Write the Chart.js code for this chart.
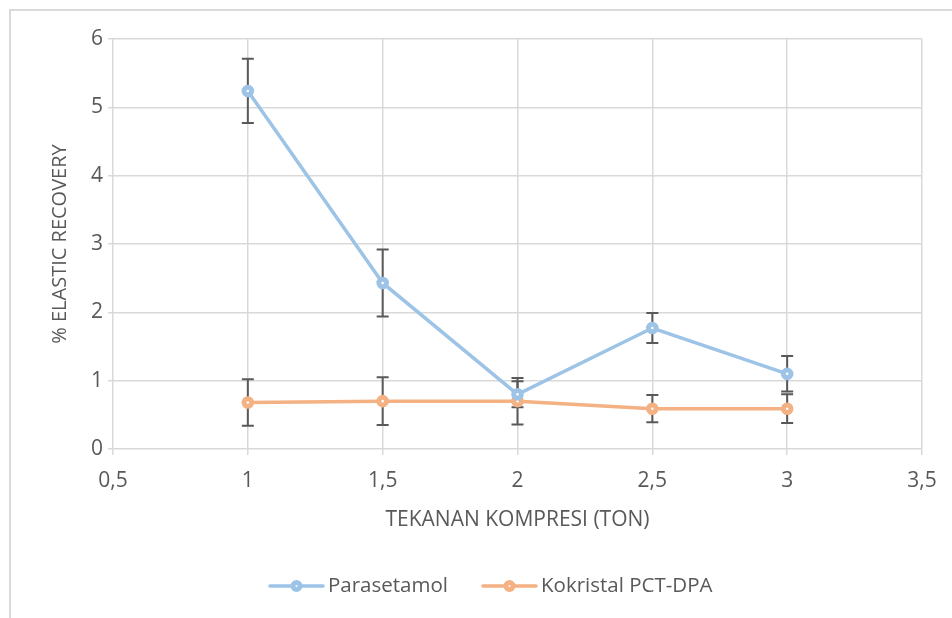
<!DOCTYPE html>
<html>
<head>
<meta charset="utf-8">
<script src="https://cdn.jsdelivr.net/npm/chart.js@4/dist/chart.umd.min.js"></script>
<style>
  html, body { margin: 0; padding: 0; background: #fff; }
  #wrap { width: 952px; height: 618px; position: relative; }
</style>
</head>
<body>
<div id="wrap"><canvas id="c" width="952" height="618"></canvas></div>
<script>
// Compression pressure (ton) and % elastic recovery with standard deviations
const pressure = [1, 1.5, 2, 2.5, 3];
const parasetamol = [5.24, 2.43, 0.80, 1.77, 1.10];
const parasetamolErr = [0.47, 0.49, 0.19, 0.22, 0.26];
const kokristal = [0.68, 0.70, 0.70, 0.59, 0.59];
const kokristalErr = [0.34, 0.35, 0.34, 0.20, 0.21];
const xTickLabels = ['0,5', '1', '1,5', '2', '2,5', '3', '3,5'];
const yTickLabels = ['0', '1', '2', '3', '4', '5', '6'];
const seriesNames = ['Parasetamol', 'Kokristal PCT-DPA'];

const BLUE = '#9DC3E6';
const ORANGE = '#F4B183';
const TEXT = '#595959';
const GRID = '#D9D9D9';
const FONT = "'Open Sans', 'DejaVu Sans', sans-serif";

const errors = [parasetamolErr, kokristalErr];

// Frame lines around the chart object
const framePlugin = {
  id: 'frame',
  beforeDraw(chart) {
    const ctx = chart.ctx;
    ctx.save();
    ctx.strokeStyle = GRID;
    ctx.lineWidth = 2;
    ctx.beginPath();
    ctx.moveTo(10, 618);
    ctx.lineTo(10, 10);
    ctx.lineTo(952, 10);
    ctx.stroke();
    ctx.restore();
  }
};

// Vertical error bars with caps, drawn under the markers
const errorBarPlugin = {
  id: 'errorBars',
  beforeDatasetsDraw(chart) {
    const ctx = chart.ctx;
    const xs = chart.scales.x, ys = chart.scales.y;
    ctx.save();
    ctx.strokeStyle = '#595959';
    ctx.lineWidth = 2;
    chart.data.datasets.forEach((ds, di) => {
      ds.data.forEach((p, i) => {
        const e = errors[di][i];
        const x = xs.getPixelForValue(p.x);
        const yt = ys.getPixelForValue(p.y + e);
        const yb = ys.getPixelForValue(p.y - e);
        ctx.beginPath();
        ctx.moveTo(x, yt); ctx.lineTo(x, yb);
        ctx.moveTo(x - 6, yt); ctx.lineTo(x + 6, yt);
        ctx.moveTo(x - 6, yb); ctx.lineTo(x + 6, yb);
        ctx.stroke();
      });
    });
    ctx.restore();
  }
};

// Legend: line sample with a marker, followed by the series name
const legendPlugin = {
  id: 'lineLegend',
  afterDraw(chart) {
    const ctx = chart.ctx;
    const items = [
      { x: 270, color: BLUE, text: seriesNames[0] },
      { x: 483, color: ORANGE, text: seriesNames[1] }
    ];
    const y = 586;
    ctx.save();
    items.forEach(it => {
      ctx.strokeStyle = it.color;
      ctx.lineWidth = 3.5;
      ctx.lineCap = 'round';
      ctx.beginPath();
      ctx.moveTo(it.x, y); ctx.lineTo(it.x + 53, y);
      ctx.stroke();
      ctx.beginPath();
      ctx.arc(it.x + 26.5, y, 3.5, 0, Math.PI * 2);
      ctx.fillStyle = '#fff';
      ctx.fill();
      ctx.lineWidth = 5;
      ctx.stroke();
      ctx.fillStyle = TEXT;
      ctx.font = '20.5px ' + FONT;
      ctx.textBaseline = 'middle';
      ctx.textAlign = 'left';
      ctx.fillText(it.text, it.x + 58, y);
    });
    ctx.restore();
  }
};

const pts = (vals) => pressure.map((x, i) => ({ x: x, y: vals[i] }));

new Chart(document.getElementById('c'), {
  type: 'line',
  data: {
    datasets: [
      {
        label: seriesNames[0],
        data: pts(parasetamol),
        borderColor: BLUE,
        backgroundColor: '#fff',
        borderWidth: 3.5,
        pointRadius: 3.8,
        pointBorderWidth: 5,
        pointBorderColor: BLUE,
        pointBackgroundColor: '#fff',
        tension: 0
      },
      {
        label: seriesNames[1],
        data: pts(kokristal),
        borderColor: ORANGE,
        backgroundColor: '#fff',
        borderWidth: 3.5,
        pointRadius: 3.8,
        pointBorderWidth: 5,
        pointBorderColor: ORANGE,
        pointBackgroundColor: '#fff',
        tension: 0
      }
    ]
  },
  options: {
    responsive: false,
    devicePixelRatio: 1,
    animation: false,
    layout: { padding: { left: 0, top: 39, right: 30, bottom: 0 } },
    plugins: {
      legend: { display: false },
      tooltip: { enabled: false }
    },
    scales: {
      x: {
        type: 'linear',
        min: 0.5,
        max: 3.5,
        afterFit(scale) { scale.height = 169; },
        ticks: {
          stepSize: 0.5,
          color: TEXT,
          font: { family: FONT, size: 21 },
          padding: 13,
          maxRotation: 0,
          callback: (v) => xTickLabels[Math.round((v - 0.5) / 0.5)]
        },
        grid: { color: GRID, lineWidth: 1.5, tickLength: 6, tickColor: GRID },
        border: { display: false },
        title: {
          display: true,
          text: 'TEKANAN KOMPRESI (TON)',
          color: TEXT,
          font: { family: FONT, size: 21 },
          padding: { top: 0, bottom: 85 }
        }
      },
      y: {
        min: 0,
        max: 6,
        afterFit(scale) { scale.width = 113; },
        ticks: {
          stepSize: 1,
          color: TEXT,
          font: { family: FONT, size: 21 },
          padding: 5,
          callback: (v) => yTickLabels[v]
        },
        grid: { color: GRID, lineWidth: 1.5, tickLength: 5, tickColor: GRID },
        border: { display: false },
        title: {
          display: true,
          text: '% ELASTIC RECOVERY',
          color: TEXT,
          font: { family: FONT, size: 20 },
          padding: { top: 48, bottom: 0 }
        }
      }
    }
  },
  plugins: [framePlugin, errorBarPlugin, legendPlugin]
});
</script>
</body>
</html>
